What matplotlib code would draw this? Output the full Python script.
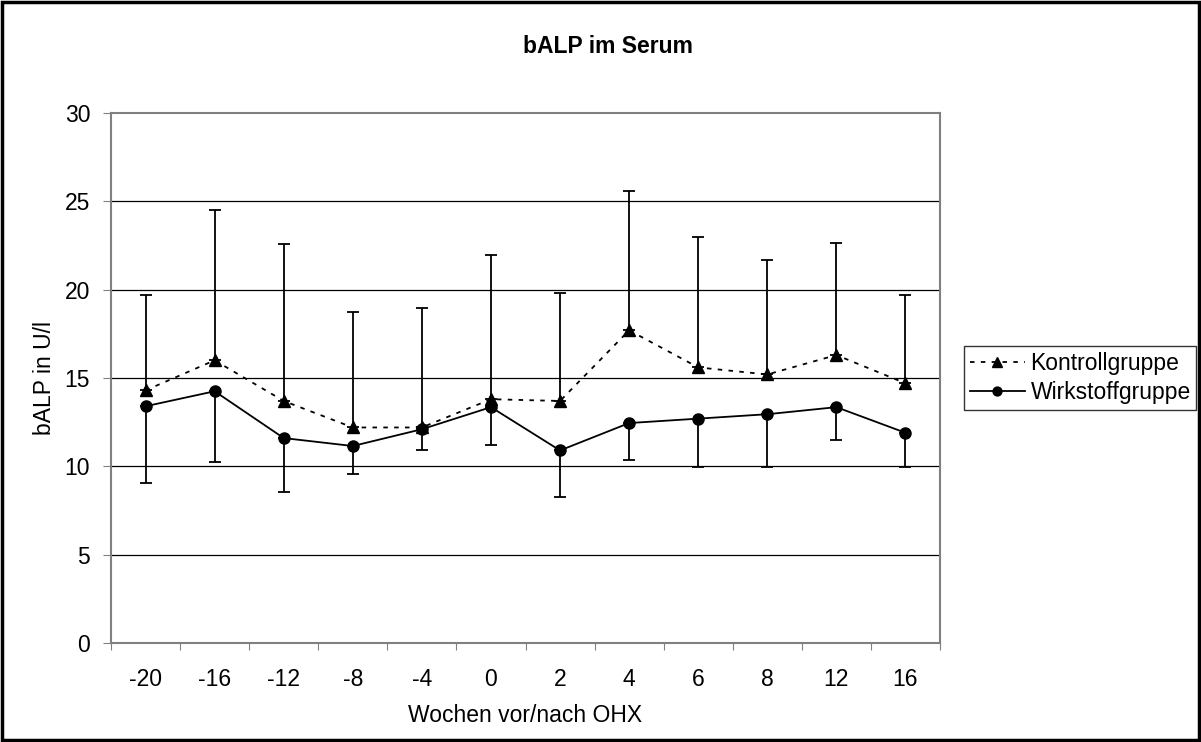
import numpy as np
import matplotlib.pyplot as plt
from matplotlib.patches import Rectangle

plt.rcParams['font.family'] = ['Liberation Sans', 'DejaVu Sans']

weeks = ['-20', '-16', '-12', '-8', '-4', '0', '2', '4', '6', '8', '12', '16']
kontroll = [14.3, 16.0, 13.7, 12.2, 12.2, 13.8, 13.7, 17.7, 15.6, 15.2, 16.3, 14.7]
kontroll_top = [19.7, 24.5, 22.6, 18.75, 18.95, 21.95, 19.8, 25.6, 23.0, 21.7, 22.65, 19.7]
wirkstoff = [13.4, 14.25, 11.6, 11.15, 12.1, 13.35, 10.9, 12.45, 12.7, 12.95, 13.35, 11.9]
wirkstoff_low = [9.05, 10.25, 8.55, 9.55, 10.95, 11.2, 8.25, 10.35, 9.98, 9.96, 11.5, 9.96]

x = np.arange(len(weeks))
k = np.array(kontroll)
w = np.array(wirkstoff)
fs = 16.5

fig = plt.figure(figsize=(12.01, 7.42), dpi=100)
ax = fig.add_axes([111/1201, 1-643/742, 829/1201, 530/742])

ax.set_ylim(0, 30)
ax.set_xlim(-0.5, len(weeks) - 0.5)
ax.set_yticks(range(0, 31, 5))
for yv in range(5, 30, 5):
    ax.axhline(yv, color='black', lw=0.9, zorder=0)

# error bars
ax.errorbar(x, k, yerr=[np.zeros_like(k), np.array(kontroll_top) - k], fmt='none',
            ecolor='black', elinewidth=1.3, capsize=4, capthick=1.3, zorder=2)
ax.errorbar(x, w, yerr=[w - np.array(wirkstoff_low), np.zeros_like(w)], fmt='none',
            ecolor='black', elinewidth=1.3, capsize=4, capthick=1.3, zorder=2)

ax.plot(x, k, color='black', lw=1.3, dashes=(2.5, 3.5), marker='^', markersize=8.5,
        label='Kontrollgruppe', zorder=3)
ax.plot(x, w, color='black', lw=1.3, marker='o', markersize=8,
        label='Wirkstoffgruppe', zorder=3)

# category axis: ticks between categories, labels at centres
ax.set_xticks(np.arange(-0.5, len(weeks), 1))
ax.set_xticklabels([])
ax.set_xticks(x, minor=True)
ax.set_xticklabels(weeks, minor=True)
ax.tick_params(axis='x', which='minor', length=0, pad=18, labelsize=fs)
ax.tick_params(axis='x', which='major', length=5, color='#808080', direction='out')
ax.tick_params(axis='y', length=6, color='#808080', direction='out', labelsize=fs, pad=9)

for sp in ax.spines.values():
    sp.set_color('#808080')
    sp.set_linewidth(1.5)

ax.set_xlabel('Wochen vor/nach OHX', fontsize=fs, labelpad=9)
ax.set_ylabel('bALP in U/l', fontsize=fs, labelpad=6)
fig.text(608/1201, 1-53/742, 'bALP im Serum', ha='center', va='baseline',
         fontsize=fs, fontweight='bold')

leg = ax.legend(loc='center left', bbox_to_anchor=(964/1201, 1-378/742),
                bbox_transform=fig.transFigure, frameon=True, fancybox=False,
                edgecolor='black', fontsize=fs, handlelength=2.4, handletextpad=0.25,
                borderpad=0.25, labelspacing=0.3, borderaxespad=0, markerscale=0.8)
leg.get_frame().set_linewidth(1.0)

fig.patches.append(Rectangle((0.002, 0.003), 0.996, 0.994, transform=fig.transFigure,
                             fill=False, edgecolor='black', lw=2.5))

fig.savefig('out.png', dpi=100)
